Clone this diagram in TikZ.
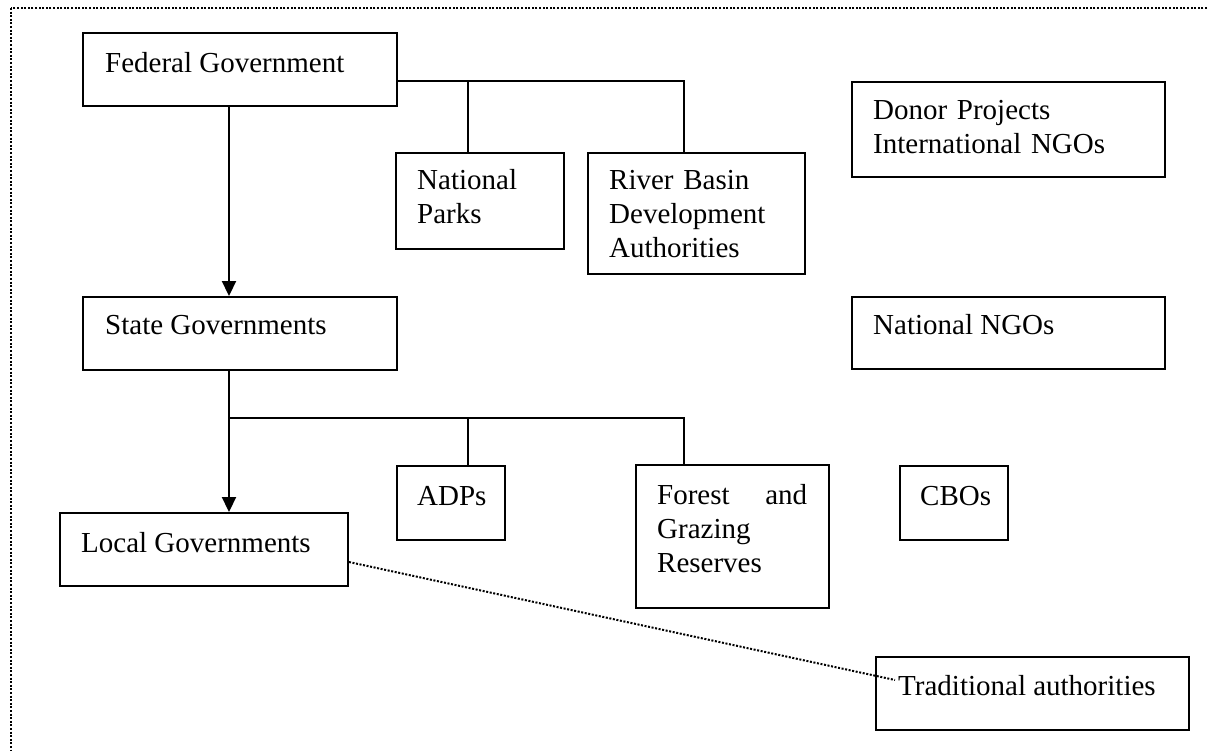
\documentclass[tikz,border=0pt]{standalone}
\usepackage{fontspec}
\setmainfont{Liberation Serif}
\usetikzlibrary{fit,arrows.meta}
\begin{document}
\begin{tikzpicture}[x=1pt,y=-1pt,
  box/.style={draw, line width=1.9pt, inner sep=0pt},
  lbl/.style={anchor=base west, inner sep=0pt, align=left, font=\fontsize{29}{34}\selectfont},
  conn/.style={line width=1.9pt},
  arr/.style={line width=1.9pt, -{Triangle[width=14pt,length=15pt]}},
  dots/.style={line width=2pt, dash pattern=on 2pt off 1.6pt}
]
\useasboundingbox (0,0) rectangle (1208,751);
\draw[dots] (11,8) rectangle (1240,790);

% boxes
\node[box, fit={(83,33) (397,106)}] (fed) {};
\node[box, fit={(396,153) (564,249)}] (np) {};
\node[box, fit={(588,153) (805,274)}] (rb) {};
\node[box, fit={(852,82) (1165,177)}] (don) {};
\node[box, fit={(83,297) (397,370)}] (st) {};
\node[box, fit={(852,297) (1165,369)}] (nngo) {};
\node[box, fit={(397,466) (505,540)}] (adp) {};
\node[box, fit={(636,465) (829,608)}] (for) {};
\node[box, fit={(900,466) (1008,540)}] (cbo) {};
\node[box, fit={(60,513) (348,586)}] (lg) {};
\node[box, fit={(876,657) (1189,730)}] (trad) {};

% texts
\node[lbl] (tfed) at (105,73) {Federal Government};
\node[lbl, text width=140pt] (tnp) at (417,190) {National\\Parks};
\node[lbl, text width=200pt] (trb) at (609,190) {River Basin\\Development\\Authorities};
\node[lbl, text width=290pt] (tdon) at (873,120) {Donor Projects\\International NGOs};
\node[lbl] (tst) at (105,335) {State Governments};
\node[lbl] (tnngo) at (873,335) {National NGOs};
\node[lbl] (tadp) at (417,505) {ADPs};
\node[lbl, text width=150pt] (tfor) at (657,504) {Forest\hfill and\\Grazing\\Reserves};
\node[lbl] (tcbo) at (920,505) {CBOs};
\node[lbl] (tlg) at (81,552) {Local Governments};
\node[lbl] (ttrad) at (898,695) {Traditional authorities};

% helper coordinates
\coordinate (xa) at (229,81);
\coordinate (xb) at (468,81);
\coordinate (xc) at (684,81);
\coordinate (ya) at (229,418);
\coordinate (yb) at (468,418);
\coordinate (yc) at (684,418);
\coordinate (lgout) at (348,562);
\coordinate (tradin) at (895,680);

% connectors
\draw[arr] (fed.south -| xa) -- (st.north -| xa);
\draw[conn] (fed.east |- xa) -| (rb.north -| xc);
\draw[conn] (xb) -- (np.north -| xb);
\draw[arr] (st.south -| ya) -- (lg.north -| ya);
\draw[conn] (ya) -| (for.north -| yc);
\draw[conn] (yb) -- (adp.north -| yb);
\draw[dots] (lg.east |- lgout) -- (tradin);
\end{tikzpicture}
\end{document}
